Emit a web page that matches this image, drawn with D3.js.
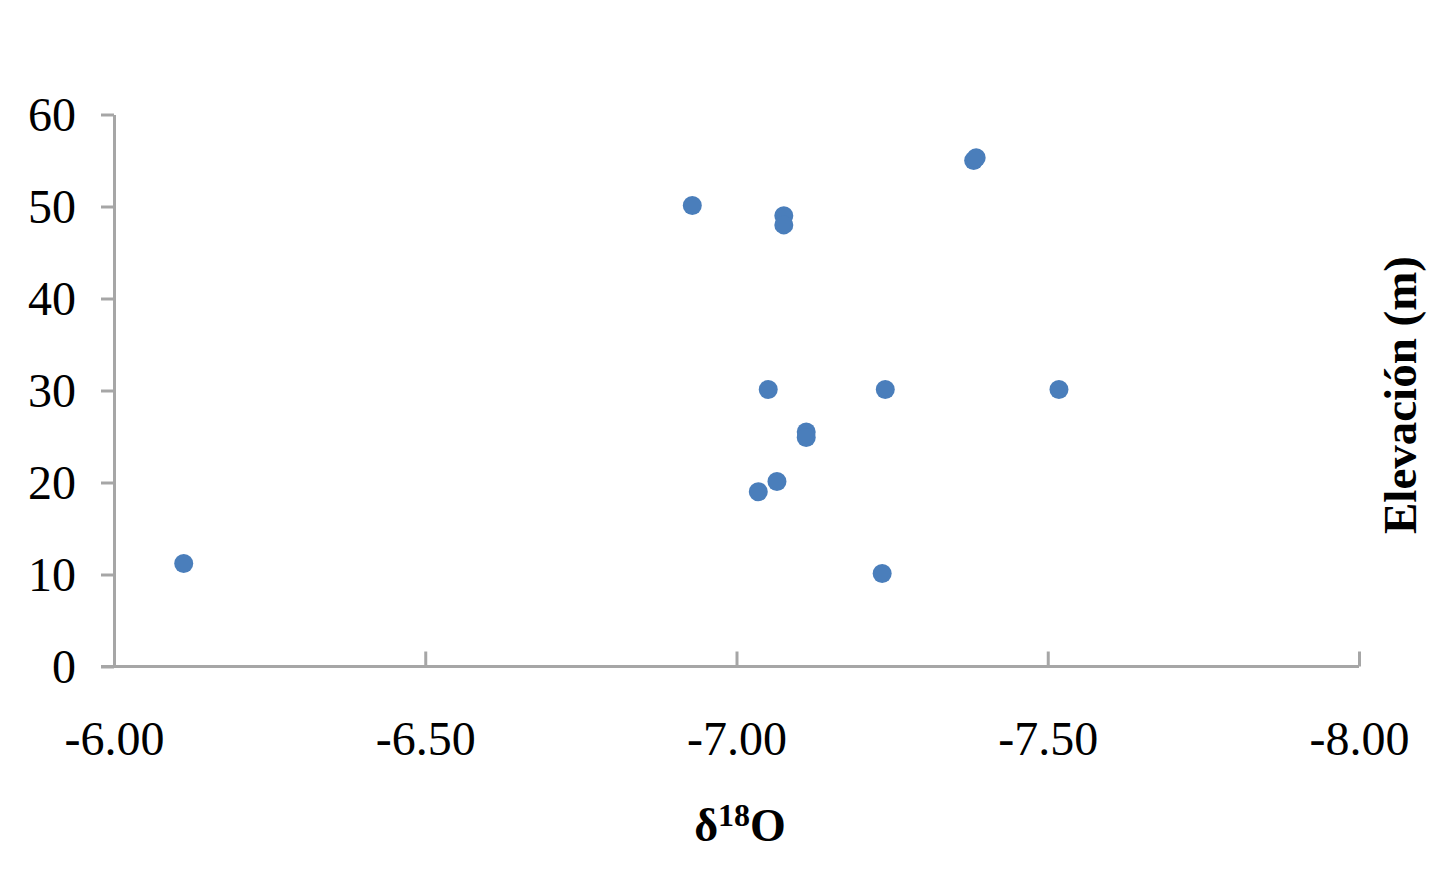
<!DOCTYPE html>
<html>
<head>
<meta charset="utf-8">
<script src="https://cdn.jsdelivr.net/npm/d3@7"></script>
<style>
html,body{margin:0;padding:0;background:#fff;}
svg text{font-family:"Liberation Serif","Times New Roman",serif;fill:#000;}
</style>
</head>
<body>
<svg id="chart" width="1452" height="876"></svg>
<script>
const d18O =      [-6.112, -6.929, -7.076, -7.076, -7.381, -7.385, -7.051, -7.239, -7.518, -7.112, -7.112, -7.065, -7.035, -7.234];
const elevation = [11.2,   50.1,   49.0,   48.0,   55.0,   55.3,   30.1,   30.1,   30.1,   25.5,   24.9,   20.1,   19.0,   10.1];
const xTicks = [-6.0, -6.5, -7.0, -7.5, -8.0];
const yTicks = [0, 10, 20, 30, 40, 50, 60];
const xTitle = "δ";
const xTitleSup = "18";
const xTitleEnd = "O";
const yTitle = "Elevación (m)";

const svg = d3.select("#chart");
const x = d3.scaleLinear().domain([-6, -8]).range([114, 1359]);
const y = d3.scaleLinear().domain([0, 60]).range([666.5, 114.5]);
const axisColor = "#a6a6a6";
const fmtX = d => d.toFixed(2);

// X axis (ticks pointing up)
const gx = svg.append("g").attr("transform", `translate(0,${y(0)})`)
  .call(d3.axisBottom(x).tickValues(xTicks).tickSize(-15).tickSizeOuter(0).tickFormat(fmtX));
gx.select(".domain").attr("stroke", axisColor).attr("stroke-width", 3).attr("d", `M${x(-6)-13},0H${x(-8)}`);
gx.selectAll(".tick line").attr("stroke", axisColor).attr("stroke-width", 3);
gx.selectAll(".tick text").attr("font-size", 48).attr("dy", 0).attr("y", 88)
  .attr("font-family", "Liberation Serif").attr("fill", "#000");

// Y axis (ticks pointing left)
const gy = svg.append("g").attr("transform", `translate(${x(-6)},0)`)
  .call(d3.axisLeft(y).tickValues(yTicks).tickSize(13).tickSizeOuter(0).tickFormat(d3.format("d")));
gy.select(".domain").attr("stroke", axisColor).attr("stroke-width", 3);
gy.selectAll(".tick line").attr("stroke", axisColor).attr("stroke-width", 3);
gy.selectAll(".tick text").attr("font-size", 48).attr("x", -38).attr("dy", "0.33em")
  .attr("font-family", "Liberation Serif").attr("fill", "#000");

// Points
svg.append("g").selectAll("circle")
  .data(d18O.map((v, i) => ({x: v, y: elevation[i]})))
  .join("circle")
  .attr("cx", d => x(d.x))
  .attr("cy", d => y(d.y))
  .attr("r", 9.5)
  .attr("fill", "#4a7ebb");

// X title
const xt = svg.append("text").attr("x", 740).attr("y", 841).attr("text-anchor", "middle")
  .attr("font-size", 46).attr("font-weight", "bold");
xt.append("tspan").text(xTitle);
xt.append("tspan").text(xTitleSup).attr("font-size", 32).attr("dy", -15);
xt.append("tspan").text(xTitleEnd).attr("dy", 15);

// Y title (right side, rotated)
svg.append("text")
  .attr("transform", "translate(1416,395) rotate(-90)")
  .attr("text-anchor", "middle")
  .attr("font-size", 47).attr("font-weight", "bold")
  .text(yTitle);
</script>
</body>
</html>
